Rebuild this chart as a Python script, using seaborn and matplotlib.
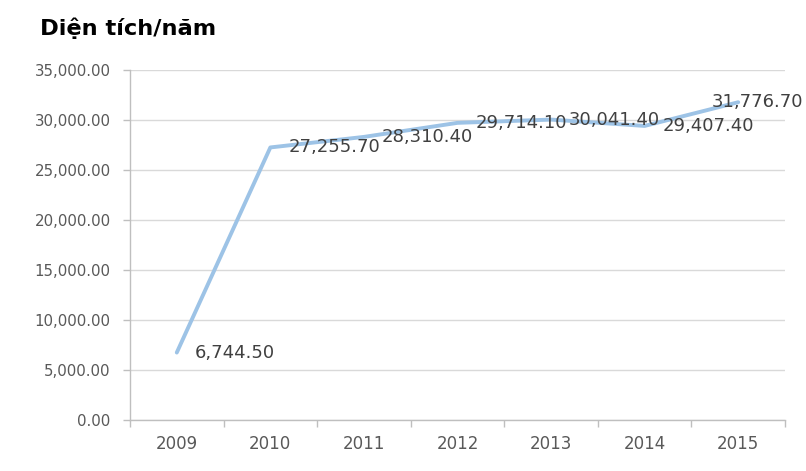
import matplotlib
matplotlib.use("Agg")
import matplotlib.pyplot as plt
import seaborn as sns
import pandas as pd
from matplotlib.ticker import FuncFormatter, FixedLocator

years = ["2009", "2010", "2011", "2012", "2013", "2014", "2015"]
values = [6744.50, 27255.70, 28310.40, 29714.10, 30041.40, 29407.40, 31776.70]
title = "Diện tích/năm"

sns.set_theme(style="white")
plt.rcParams['font.family'] = ['DejaVu Sans']

df = pd.DataFrame({"year": years, "value": values})

fig = plt.figure(figsize=(8.06, 4.71), dpi=100)
ax = fig.add_axes([130/806, 1-420/471, 655/806, 350/471])

sns.lineplot(data=df, x="year", y="value", ax=ax, color="#9DC3E6", linewidth=2.8,
             sort=False, solid_capstyle="round")

ax.set_xlim(-0.5, 6.5)
ax.set_ylim(0, 35000)
ax.set_yticks(range(0, 35001, 5000))
ax.yaxis.set_major_formatter(FuncFormatter(lambda v, p: f"{v:,.2f}"))
ax.grid(axis="y", color="#D9D9D9", linewidth=1)
ax.set_axisbelow(True)

for s in ["top", "right"]:
    ax.spines[s].set_visible(False)
for s in ["left", "bottom"]:
    ax.spines[s].set_color("#BFBFBF")
    ax.spines[s].set_linewidth(1)

ax.tick_params(axis="y", which="major", length=5, color="#BFBFBF", width=1,
               labelsize=10.8, labelcolor="#595959", pad=9, left=True)
ax.tick_params(axis="x", which="major", length=0, labelsize=12,
               labelcolor="#595959", pad=11)
ax.xaxis.set_minor_locator(FixedLocator([i - 0.5 for i in range(len(years) + 1)]))
ax.tick_params(axis="x", which="minor", length=5, color="#BFBFBF", width=1, bottom=True)

ax.set_xlabel("")
ax.set_ylabel("")

for i, v in enumerate(values):
    dx = 13 if i < len(values) - 1 else -19
    ax.annotate(f"{v:,.2f}", xy=(i, v), xytext=(dx, 0), textcoords="offset points",
                ha="left", va="center", fontsize=13, color="#404040")

fig.text(40/806, 1-28/471, title, fontsize=16.2, fontweight="bold", color="#000000",
         ha="left", va="center")

fig.savefig("out.png", dpi=100)
